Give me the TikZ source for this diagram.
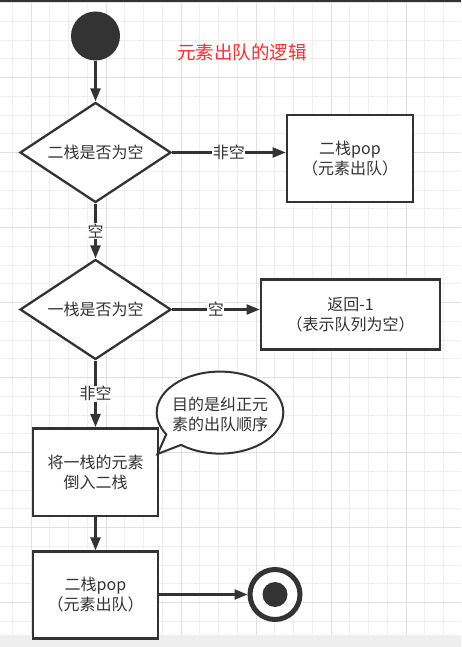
\documentclass[tikz,border=0pt]{standalone}
\usepackage{fontspec}
\setmainfont{Noto Sans CJK SC}
\usetikzlibrary{shapes.geometric,arrows.meta}
\definecolor{ink}{HTML}{333333}
\definecolor{gridminor}{HTML}{EFEFEF}
\definecolor{gridmajor}{HTML}{E0E0E0}
\definecolor{titlered}{HTML}{FF2D2D}
\definecolor{stripgray}{HTML}{EEEEEE}
\tikzset{
  txt/.style={font=\fontsize{16pt}{20pt}\selectfont, text=ink, align=center},
  boxnode/.style={txt, draw=ink, line width=2.7pt, fill=white, inner sep=0pt},
  decision/.style={txt, diamond, draw=ink, line width=2.3pt, fill=white, inner sep=0pt, aspect=1.51, minimum width=151pt, minimum height=100pt},
  conn/.style={draw=ink, line width=2.3pt, -{Triangle[length=13pt,width=10pt]}},
  lbl/.style={txt, fill=white, inner sep=0.5pt},
  minorline/.style={draw=gridminor, line width=1pt},
  majorline/.style={draw=gridmajor, line width=1pt}
}
\begin{document}
\begin{tikzpicture}[x=1pt,y=1pt]
\useasboundingbox (0,0) rectangle (461,647);
% background and grid
\fill[white] (0,0) rectangle (461,647);
\foreach \k in {0,...,23} {
  \pgfmathsetmacro\xx{12.25+18.75*\k}
  \draw[minorline] (\xx,12) -- (\xx,645);
}
\foreach \k in {0,...,33} {
  \pgfmathsetmacro\yy{647-2.7-18.75*\k}
  \draw[minorline] (0,\yy) -- (461,\yy);
}
\foreach \k in {0,...,5} {
  \pgfmathsetmacro\xx{31+75*\k}
  \draw[majorline] (\xx,12) -- (\xx,645);
}
\foreach \k in {0,...,8} {
  \pgfmathsetmacro\yy{647-2.7-75*\k}
  \draw[majorline] (0,\yy) -- (461,\yy);
}
\fill[stripgray] (0,0) rectangle (461,12);
\fill[ink] (0,645) rectangle (461,647);

% nodes
\node[circle, fill=ink, minimum size=49pt, inner sep=0pt] (start) at (95.5,611) {};
\node[font=\fontsize{18.5pt}{22pt}\selectfont, text=titlered] (title) at (242,595) {元素出队的逻辑};

\node[decision] (d1) at (95.5,494.5) {二栈是否为空};
\node[boxnode, minimum width=126pt, minimum height=87pt] (b1) at (350,488.5) {二栈pop\\（元素出队）};

\node[decision] (d2) at (95.5,337.5) {一栈是否为空};
\node[boxnode, minimum width=179pt, minimum height=70pt] (b2) at (350.5,332.7) {返回-1\\（表示队列为空）};

\node[boxnode, minimum width=125pt, minimum height=87.7pt] (b3) at (95.5,174.8) {将一栈的元素\\倒入二栈};
\node[boxnode, minimum width=125pt, minimum height=86.6pt] (b4) at (95.5,52) {二栈pop\\（元素出队）};

\node[circle, draw=ink, line width=5pt, fill=white, minimum size=50pt, inner sep=0pt] (endc) at (275,52.5) {};
\fill[ink] (endc.center) circle[radius=12.5pt];

% callout
\coordinate (tip) at (157.5,193);
\draw[draw=ink, line width=2pt, fill=white] (220,234.4) ++(232:63.3 and 41)
  arc[start angle=232, end angle=572, x radius=63.3, y radius=41] -- (tip) -- cycle;
\node[txt] (note) at (220,232.5) {目的是纠正元\\素的出队顺序};

% connectors
\draw[conn] (start) -- (d1);
\draw[conn] (d1.east) -- node[lbl] {非空} (d1.east -| b1.west);
\draw[conn] (d1.south) -- node[lbl] {空} (d2.north);
\draw[conn] (d2.east) -- node[lbl] {空} (d2.east -| b2.west);
\draw[conn] (d2.south) -- node[lbl] {非空} (b3.north);
\draw[conn] (b3.south) -- (b4.north);
\draw[conn] (b4.east |- endc) -- (endc);
\end{tikzpicture}
\end{document}
